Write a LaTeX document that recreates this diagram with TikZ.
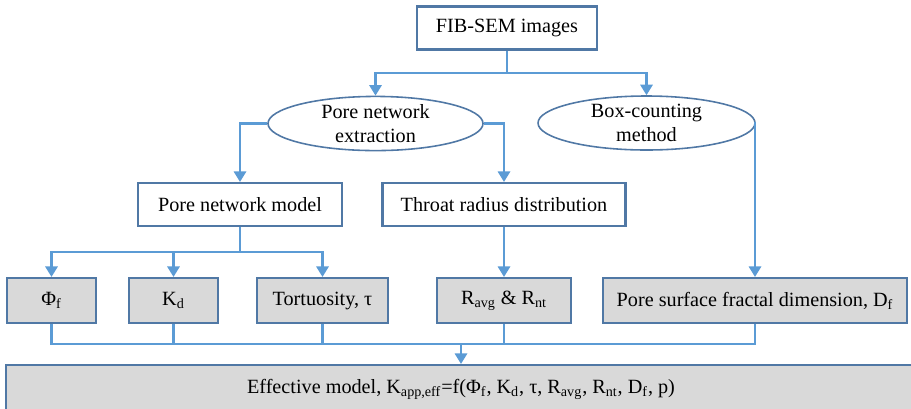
\documentclass[tikz,border=0pt]{standalone}
\usepackage{fontspec}
\setmainfont{Liberation Serif}
\usepackage{xcolor}
\usetikzlibrary{shapes.geometric,arrows.meta}
\definecolor{linkblue}{RGB}{91, 155, 213}
\definecolor{borderblue}{RGB}{80, 120, 165}
\definecolor{paramgray}{RGB}{217, 217, 217}

\begin{document}
\begin{tikzpicture}[
        font=\fontsize{11.5}{13.7}\selectfont,
        stepbox/.style={rectangle, draw=borderblue, line width=1.2pt, minimum height=0.86cm, fill=white, text=black},
        method/.style={ellipse, draw=borderblue, line width=0.9pt, fill=white, text=black, align=center, inner sep=0pt},
        param/.style={rectangle, draw=borderblue, line width=1.2pt, minimum height=0.9cm, fill=paramgray, text=black},
        link/.style={draw=linkblue, line width=1.25pt},
        flow/.style={link, -{Triangle[width=7pt, length=6pt]}}
    ]
    \clip (0, 0) rectangle (18.22, -8.16);
    
    % Source and methods
    \node[stepbox, minimum width=3.6cm] (fib) at (10.14, -0.56) {FIB-SEM images};
    \node[method, minimum width=4.3cm, minimum height=1.06cm] (pne) at (7.51, -2.47) {Pore network\\extraction};
    \node[method, minimum width=4.34cm, minimum height=1.08cm] (bcm) at (12.93, -2.46) {Box-counting\\method};
    
    % Intermediate results
    \node[stepbox, minimum width=4.08cm] (pnm) at (4.80, -4.09) {Pore network model};
    \node[stepbox, minimum width=4.86cm] (trd) at (10.08, -4.09) {Throat radius distribution};
    
    % Parameters
    \node[param, minimum width=1.78cm] (phi) at (1.03, -6.01) {Φ\textsubscript{f}};
    \node[param, minimum width=1.78cm] (kd) at (3.47, -6.01) {K\textsubscript{d}};
    \node[param, minimum width=2.62cm] (tort) at (6.45, -6.01) {Tortuosity, τ};
    \node[param, minimum width=2.68cm] (ravg) at (10.08, -6.01) {R\textsubscript{avg} \& R\textsubscript{nt}};
    \node[param, minimum width=6.08cm] (df) at (15.10, -6.01) {Pore surface fractal dimension, D\textsubscript{f}};
    
    % Effective model
    \node[param, minimum width=18.2cm, minimum height=0.96cm] (eff) at (9.22, -7.78) {Effective model, K\textsubscript{app,eff}=f(Φ\textsubscript{f}, K\textsubscript{d}, τ, R\textsubscript{avg}, R\textsubscript{nt}, D\textsubscript{f}, p)};
    
    % Junctions
    \coordinate (j1) at (10.14, -1.46);
    \coordinate (j2) at (4.80, -5.04);
    \coordinate (j3) at (9.22, -6.88);
    
    % Top flows
    \draw[link] (fib) -- (j1);
    \draw[flow] (j1) -| (pne);
    \draw[flow] (j1) -| (bcm);
    \draw[flow] (pne.west) -| (pnm);
    \draw[flow] (pne.east) -| (trd);
    \draw[flow] (bcm.east) -| (df);
    
    % Parameter flows
    \draw[link] (pnm) -- (j2);
    \draw[flow] (j2) -| (phi);
    \draw[flow] (j2) -| (kd);
    \draw[flow] (j2) -| (tort);
    \draw[flow] (trd) -- (ravg);
    
    % Into the model
    \draw[link] (phi) |- (j3);
    \draw[link] (kd) |- (j3);
    \draw[link] (tort) |- (j3);
    \draw[link] (ravg) |- (j3);
    \draw[link] (df) |- (j3);
    \draw[flow] (j3) -- (eff);
    
\end{tikzpicture}
\end{document}
